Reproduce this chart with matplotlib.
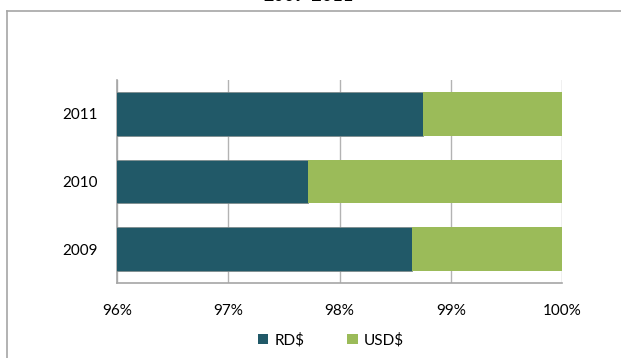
import matplotlib
matplotlib.use("Agg")
import matplotlib.pyplot as plt
from matplotlib.lines import Line2D
from matplotlib.patches import Patch

plt.rcParams['font.family'] = ['Lato', 'DejaVu Sans']

years = ["2009", "2010", "2011"]
rd_share = [98.65, 97.72, 98.75]      # percent of total in RD$
usd_share = [1.35, 2.28, 1.25]        # percent of total in USD$
x_ticks = [96, 97, 98, 99, 100]
x_tick_labels = ["96%", "97%", "98%", "99%", "100%"]
title = "2009-2011"

W, H = 621, 358
fig = plt.figure(figsize=(W / 100, H / 100), dpi=100)

# chart-area frame (left and top edges)
fig.add_artist(Line2D([7 / W, 7 / W], [0, 1 - 11 / H], transform=fig.transFigure,
                      color="#a6a6a6", lw=1.2))
fig.add_artist(Line2D([7 / W, 1], [1 - 11 / H, 1 - 11 / H], transform=fig.transFigure,
                      color="#a6a6a6", lw=1.2))

fig.text(309 / W, 1 - 4 / H, title, ha="center", va="bottom", fontsize=13,
         fontweight="bold")

ax = fig.add_axes([117 / W, 75 / H, 445 / W, 203 / H])
pos = range(len(years))
ax.barh(pos, rd_share, height=0.65, color="#215968", edgecolor="#7f8c8d",
        linewidth=0.6, zorder=3, label="RD$")
ax.barh(pos, usd_share, left=rd_share, height=0.65, color="#9bbb59",
        edgecolor="none", zorder=3, label="USD$")

ax.set_xlim(96, 100)
ax.set_ylim(-0.5, 2.5)
ax.set_xticks(x_ticks)
ax.set_xticklabels(x_tick_labels)
ax.set_yticks(list(pos))
ax.set_yticklabels(years)
ax.tick_params(axis="x", length=0, pad=15, labelsize=11)
ax.tick_params(axis="y", length=0, pad=14, labelsize=11)
ax.grid(axis="x", color="#b3b3b3", lw=1, zorder=0)
for side in ["top", "right"]:
    ax.spines[side].set_visible(False)
for side in ["left", "bottom"]:
    ax.spines[side].set_color("#a6a6a6")
    ax.spines[side].set_linewidth(1.2)

handles = [Patch(facecolor="#215968", edgecolor="none", label="RD$"),
           Patch(facecolor="#9bbb59", edgecolor="none", label="USD$")]
fig.legend(handles=handles, loc="center", bbox_to_anchor=(331 / W, 1 - 340 / H),
           ncol=2, frameon=False, fontsize=11, handlelength=0.7, handleheight=0.7,
           handletextpad=0.4, columnspacing=2.8, borderaxespad=0, borderpad=0)

fig.savefig("out.png", dpi=100)
